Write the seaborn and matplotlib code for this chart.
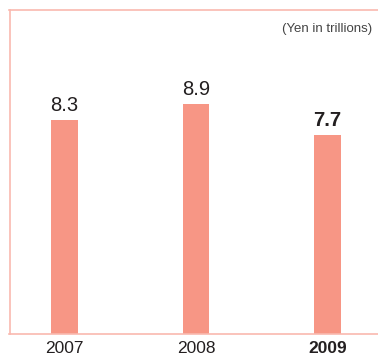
import matplotlib
matplotlib.use("Agg")
import matplotlib.pyplot as plt
import seaborn as sns
import pandas as pd

years = ["2007", "2008", "2009"]
values = [8.3, 8.9, 7.7]
value_labels = ["8.3", "8.9", "7.7"]
unit_note = "(Yen in trillions)"

bar_color = "#F79685"
frame_color = "#F9B9AF"
text_color = "#231F20"

sns.set_theme(style="white")
plt.rcParams["font.family"] = ["Liberation Sans", "DejaVu Sans"]

df = pd.DataFrame({"year": years, "value": values})

fig = plt.figure(figsize=(3.78, 3.58), dpi=100)
ax = fig.add_axes([9.5 / 378, 1 - 334 / 358, 1 - 9.5 / 378, 324 / 358])

sns.barplot(data=df, x="year", y="value", color=bar_color, width=0.205,
            saturation=1, ax=ax, edgecolor="none")

ax.set_xlim(-0.418, 2.384)
ax.set_ylim(0, 12.56)

for i, (v, lab) in enumerate(zip(values, value_labels)):
    bold = i == len(values) - 1
    ax.text(i, v + 0.2, lab, ha="center", va="bottom", fontsize=14.5,
            color=text_color, fontweight="bold" if bold else "normal")

ax.text(0.985, 0.96, unit_note, transform=ax.transAxes, ha="right", va="top",
        fontsize=9.5, color="#444444")

ax.set_xlabel("")
ax.set_ylabel("")
ax.set_yticks([])
ax.tick_params(axis="x", length=0, pad=5, labelsize=12.5, labelcolor=text_color)
for i, t in enumerate(ax.get_xticklabels()):
    if i == len(years) - 1:
        t.set_fontweight("bold")

for side in ["left", "top", "bottom"]:
    ax.spines[side].set_color(frame_color)
    ax.spines[side].set_linewidth(1.2)
ax.spines["right"].set_visible(False)

fig.savefig("out.png", dpi=100)
